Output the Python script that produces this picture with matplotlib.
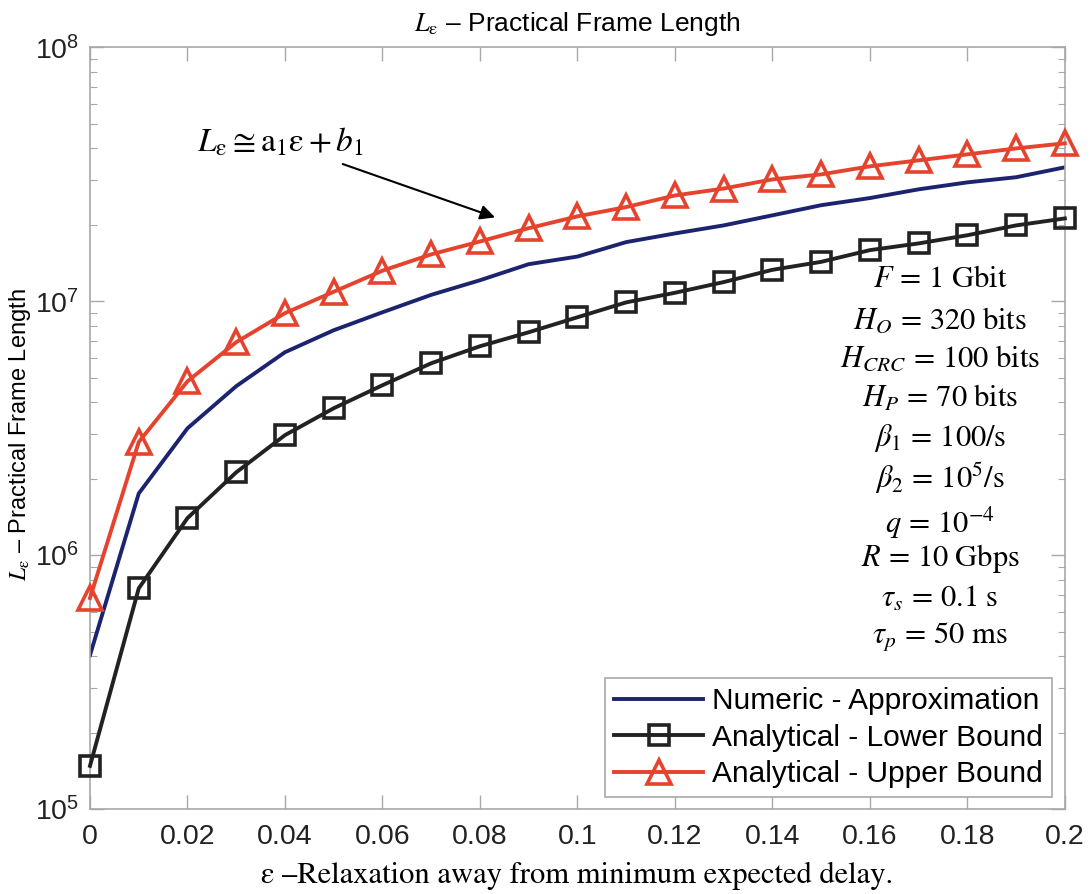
import numpy as np
import matplotlib
matplotlib.use("Agg")
import matplotlib.pyplot as plt
from matplotlib.ticker import FixedLocator, FixedFormatter, LogLocator, NullFormatter

plt.rcParams["mathtext.fontset"] = "stix"
plt.rcParams["font.family"] = ["Liberation Sans", "DejaVu Sans"]

# relaxation eps and the three frame-length curves
eps = [0.00, 0.01, 0.02, 0.03, 0.04, 0.05, 0.06, 0.07, 0.08, 0.09, 0.10,
       0.11, 0.12, 0.13, 0.14, 0.15, 0.16, 0.17, 0.18, 0.19, 0.20]
numeric = [4.04e5, 1.75e6, 3.16e6, 4.63e6, 6.30e6, 7.69e6, 9.05e6, 1.06e7, 1.21e7, 1.40e7, 1.50e7,
           1.71e7, 1.85e7, 1.99e7, 2.18e7, 2.39e7, 2.55e7, 2.76e7, 2.94e7, 3.08e7, 3.37e7]
lower = [1.48e5, 7.40e5, 1.40e6, 2.12e6, 2.97e6, 3.79e6, 4.67e6, 5.70e6, 6.65e6, 7.55e6, 8.65e6,
         9.90e6, 1.08e7, 1.19e7, 1.33e7, 1.43e7, 1.59e7, 1.69e7, 1.82e7, 1.99e7, 2.12e7]
upper = [6.78e5, 2.79e6, 4.84e6, 6.90e6, 8.98e6, 1.09e7, 1.32e7, 1.53e7, 1.72e7, 1.94e7, 2.16e7,
         2.35e7, 2.61e7, 2.78e7, 3.02e7, 3.16e7, 3.40e7, 3.59e7, 3.79e7, 4.00e7, 4.19e7]

x_ticks = [0, 0.02, 0.04, 0.06, 0.08, 0.1, 0.12, 0.14, 0.16, 0.18, 0.2]
x_labels = ["0", "0.02", "0.04", "0.06", "0.08", "0.1", "0.12", "0.14", "0.16", "0.18", "0.2"]
y_ticks = [1e5, 1e6, 1e7, 1e8]
y_labels = [r"$\mathregular{10^{5}}$", r"$\mathregular{10^{6}}$",
            r"$\mathregular{10^{7}}$", r"$\mathregular{10^{8}}$"]

params = [r"$F\,=\,1\ \mathrm{Gbit}$",
          r"$H_O\,=\,320\ \mathrm{bits}$",
          r"$H_{CRC}\,=\,100\ \mathrm{bits}$",
          r"$H_P\,=\,70\ \mathrm{bits}$",
          r"$\beta_1\,=\,100/\mathrm{s}$",
          r"$\beta_2\,=\,10^5/\mathrm{s}$",
          r"$q\,=\,10^{-4}$",
          r"$R\,=\,10\ \mathrm{Gbps}$",
          r"$\tau_s\,=\,0.1\ \mathrm{s}$",
          r"$\tau_p\,=\,50\ \mathrm{ms}$"]
param_y = [0.6955, 0.6404, 0.5906, 0.5394, 0.4869, 0.4344, 0.3753, 0.3294, 0.2756, 0.2270]

RED = "#e5432e"
NAVY = "#1c2470"
BLACK = "#222222"
SPINE = "#a8a8a8"

fig = plt.figure(figsize=(10.91, 8.94), dpi=100)
ax = fig.add_axes([0.0825, 0.095, 0.8935, 0.852])

ax.plot(eps, numeric, color=NAVY, lw=2.8, label="Numeric - Approximation")
ax.plot(eps, lower, color=BLACK, lw=2.8, marker="s", ms=15, mfc="none", mec=BLACK, mew=2.6,
        label="Analytical - Lower Bound", clip_on=False, zorder=3)
ax.plot(eps, upper, color=RED, lw=2.8, marker="^", ms=17, mfc="none", mec=RED, mew=2.6,
        label="Analytical - Upper Bound", clip_on=False, zorder=3)

ax.set_yscale("log")
ax.set_xlim(0, 0.2)
ax.set_ylim(1e5, 1e8)
ax.xaxis.set_major_locator(FixedLocator(x_ticks))
ax.xaxis.set_major_formatter(FixedFormatter(x_labels))
ax.yaxis.set_major_locator(FixedLocator(y_ticks))
ax.yaxis.set_major_formatter(FixedFormatter(y_labels))
ax.yaxis.set_minor_locator(LogLocator(base=10, subs=np.arange(2, 10)))
ax.yaxis.set_minor_formatter(NullFormatter())
ax.tick_params(which="both", direction="in", top=True, right=True, colors=SPINE,
               labelcolor="#222222", labelsize=20.5)
ax.tick_params(which="major", length=10, width=1)
ax.tick_params(which="minor", length=5, width=0.8)
ax.tick_params(axis="x", pad=11)
ax.tick_params(axis="y", pad=8)
for s in ax.spines.values():
    s.set_color(SPINE)
    s.set_linewidth(1.2)

ax.set_title(r"$L_{\mathrm{ε}}$ – Practical Frame Length", fontsize=19, pad=12)
ax.set_ylabel(r"$L_{\mathrm{ε}}$ – Practical Frame Length", fontsize=17)
ax.yaxis.set_label_coords(-0.058, 0.491)
ax.set_xlabel("ε –Relaxation away from minimum expected delay.", fontsize=22,
              family=["STIXGeneral", "DejaVu Serif"], labelpad=8)

ax.annotate(r"$L_{\mathrm{ε}} \cong \mathrm{a}_1\mathrm{ε} + b_1$",
            xy=(0.0831, 2.14e7), xytext=(0.0562, 4.23e7), ha="right", va="center",
            fontsize=24,
            arrowprops=dict(arrowstyle="-|>", color="black", lw=1.5,
                            mutation_scale=22, shrinkA=6, shrinkB=0))

for p, yy in zip(params, param_y):
    ax.text(0.872, yy, p, transform=ax.transAxes, ha="center", va="center", fontsize=22)

leg = ax.legend(loc="lower right", bbox_to_anchor=(0.987, 0.0157), borderaxespad=0,
                fontsize=21.5, fancybox=False, framealpha=1, edgecolor=SPINE,
                handlelength=3.0, handletextpad=0.3, borderpad=0.3, labelspacing=0.28)
leg.get_frame().set_linewidth(1.2)

fig.savefig("out.png", dpi=100)
